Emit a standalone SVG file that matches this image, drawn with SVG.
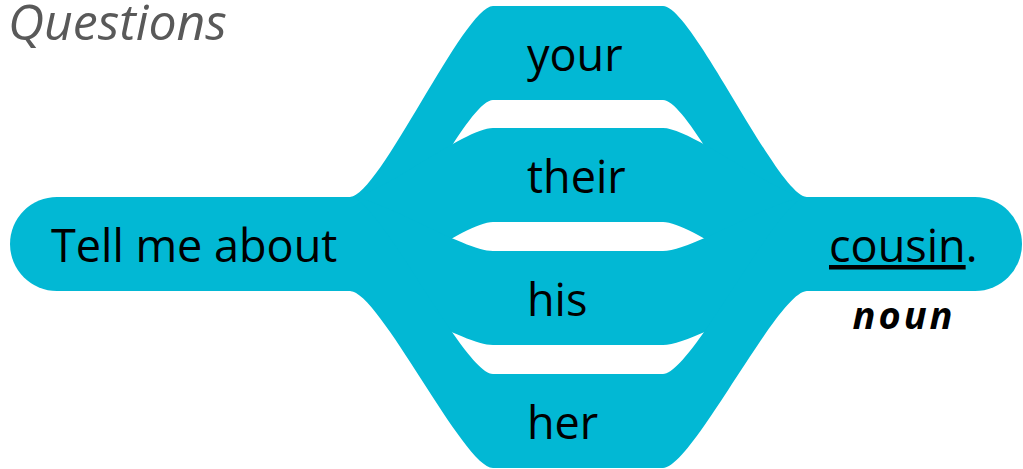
<svg xmlns="http://www.w3.org/2000/svg" width="1023" height="469" viewBox="0 0 1023 469">
<style>
.shape{fill:#02B8D4;stroke:none}
.lbl{font-family:"Open Sans","Noto Sans","DejaVu Sans",sans-serif;font-size:45px;fill:#000}
.title{font-family:"Open Sans","Noto Sans","DejaVu Sans",sans-serif;font-size:50px;font-style:italic;fill:#595959}
.pos{font-family:"Open Sans","Noto Sans","DejaVu Sans",sans-serif;font-size:38px;font-style:italic;font-weight:bold;fill:#000;letter-spacing:3px}
</style>
<rect width="1023" height="469" fill="#fff"/>
<text class="title" x="8" y="40">Questions</text>
<g id="connectors"></g>
<g id="node-tell">
<path class="shape" d="M57,197 H352 V291 H57 A47,47 0 0 1 57,197 Z"/>
<text class="lbl" x="51" y="262">Tell me about</text>
</g>
<g id="node-your">
<path class="shape" d="M350,197 C379,197 464,6 493,6 H663 C692,6 778,197 807,197 L807,291 C778,291 692,100 663,100 H493 C464,100 379,291 350,291 Z"/>
<text class="lbl" x="527" y="71">your</text>
</g>
<g id="node-their">
<path class="shape" d="M350,197 C379,197 464,128 493,128 H663 C692,128 778,197 807,197 L807,291 C778,291 692,222 663,222 H493 C464,222 379,291 350,291 Z"/>
<text class="lbl" x="527" y="193">their</text>
</g>
<g id="node-his">
<path class="shape" d="M350,197 C379,197 464,251 493,251 H663 C692,251 778,197 807,197 L807,291 C778,291 692,345 663,345 H493 C464,345 379,291 350,291 Z"/>
<text class="lbl" x="527" y="316">his</text>
</g>
<g id="node-her">
<path class="shape" d="M350,197 C379,197 464,374 493,374 H663 C692,374 778,197 807,197 L807,291 C778,291 692,468 663,468 H493 C464,468 379,291 350,291 Z"/>
<text class="lbl" x="527" y="439">her</text>
</g>
<g id="node-cousin">
<path class="shape" d="M805,197 H975 A47,47 0 0 1 975,291 H805 Z"/>
<text class="lbl" x="829" y="262"><tspan text-decoration="underline">cousin</tspan>.</text>
<text class="pos" x="904" y="329" text-anchor="middle">noun</text>
</g>
</svg>
